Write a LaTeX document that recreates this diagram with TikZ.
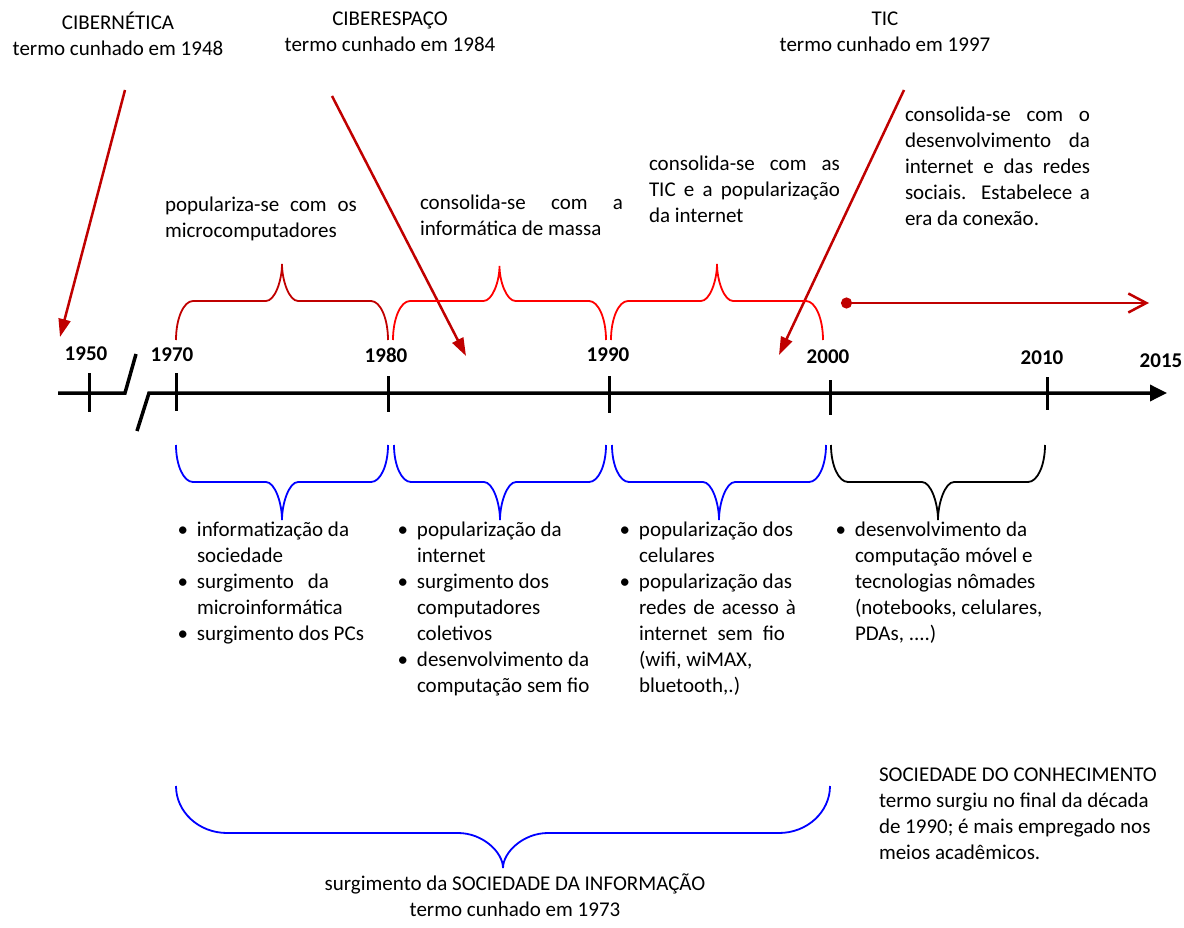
\documentclass[tikz,border=0pt]{standalone}
\usepackage{fontspec}
\setmainfont{Carlito}
\usetikzlibrary{arrows.meta}
\definecolor{dred}{RGB}{192,0,0}
\definecolor{bred}{RGB}{255,0,0}
\definecolor{bblue}{RGB}{0,0,255}
\newcommand\fs{\fontsize{21pt}{26pt}\selectfont}
% #1 style, #2 x0, #3 x1, #4 y end, #5 y bar, #6 y tip, #7 corner radius, #8 tip radius
\newcommand\tlbrace[8]{%
 \pgfmathsetmacro\bxm{(#2+#3)/2}%
 \pgfmathsetmacro\bya{#4+0.552*(#5-#4)}%
 \pgfmathsetmacro\byb{#5+0.552*(#6-#5)}%
 \draw[#1] (#2,#4) .. controls (#2,\bya) and ({#2+0.448*#7},#5) .. ({#2+#7},#5)
  -- ({\bxm-#8},#5) .. controls ({\bxm-0.448*#8},#5) and (\bxm,\byb) .. (\bxm,#6)
  .. controls (\bxm,\byb) and ({\bxm+0.448*#8},#5) .. ({\bxm+#8},#5)
  -- ({#3-#7},#5) .. controls ({#3-0.448*#7},#5) and (#3,\bya) .. (#3,#4);
}
\newcommand\bul{\llap{\textbullet\hspace{9pt}}}
\begin{document}
\begin{tikzpicture}[x=1pt,y=-1pt,
  txt/.style={font=\fs, inner sep=0pt, outer sep=0pt, execute at begin node={\rule{0pt}{18pt}}},
  year/.style={font=\fs\bfseries, inner sep=0pt, anchor=base},
  axisline/.style={line width=3.5pt, black},
  tickline/.style={line width=3pt, black},
  redarrow/.style={dred, line width=2.5pt, -{Triangle[length=18pt,width=12pt]}},
  bracered/.style={line width=1.8pt},
  braceblue/.style={bblue, line width=1.8pt}]
\useasboundingbox (0,0) rectangle (1184,928);

% axis
\coordinate (a0) at (58,393);
\coordinate (a1) at (125,393);
\coordinate (a2) at (136,354);
\coordinate (b0) at (137,431);
\coordinate (b1) at (149,393);
\coordinate (b2) at (1167,393);
\draw[axisline, line join=miter] (a0) -- (a1) -- (a2);
\draw[axisline, line join=miter, -{Triangle[length=17pt,width=16pt]}] (b0) -- (b1) -- (b2);
\draw[tickline] (89,373) -- (89,412);
\draw[tickline] (176,373) -- (176,411);
\draw[tickline] (388,376) -- (388,412);
\draw[tickline] (609,376) -- (609,413);
\draw[tickline] (830,380) -- (830,415);
\draw[tickline] (1047,377) -- (1047,410);

% years
\node[year] (y1950) at (86,360) {1950};
\node[year] (y1970) at (172,361) {1970};
\node[year] (y1980) at (386,362) {1980};
\node[year] (y1990) at (608,361) {1990};
\node[year] (y2000) at (828,363) {2000};
\node[year] (y2010) at (1042,364) {2010};
\node[year] (y2015) at (1161,367) {2015};

% top terms
\node[txt, align=center, anchor=north] (cib) at (118,12) {CIBERNÉTICA\\termo cunhado em 1948};
\node[txt, align=center, anchor=north] (ciber) at (390,12) {CIBERESPAÇO\\termo cunhado em 1984};
\node[txt, align=center, anchor=north] (tic) at (885,12) {TIC\\termo cunhado em 1997};

% red arrows
\coordinate (r1s) at (125,90);  \coordinate (r1e) at (60,337);
\coordinate (r2s) at (332,96);  \coordinate (r2e) at (466,356);
\coordinate (r3s) at (904,90);  \coordinate (r3e) at (779,355);
\draw[redarrow] (r1s) -- (r1e);
\draw[redarrow] (r2s) -- (r2e);
\draw[redarrow] (r3s) -- (r3e);

% red line with dot
\coordinate (ls) at (841,303);
\coordinate (le) at (1149,303);
\draw[dred, line width=2.5pt, {Circle[length=11pt]}-{Straight Barb[length=18pt,width=19pt,line width=2.5pt]}] (ls) -- (le);

% red braces
\tlbrace{bracered, dred}{176}{388}{340}{301}{264}{17}{16}
\tlbrace{bracered, bred}{393}{606}{340}{301}{266}{17}{16}
\tlbrace{bracered, bred}{611}{823}{340}{301}{264}{17}{16}

% upper texts
\node[txt, align=left, anchor=north west] (t1) at (165,197)
 {\makebox[192pt][s]{populariza-se com os}\\microcomputadores};
\node[txt, align=left, anchor=north west] (t2) at (420,195)
 {\makebox[203pt][s]{consolida-se com a}\\informática de massa};
\node[txt, align=left, anchor=north west] (t3) at (649,156)
 {\makebox[191pt][s]{consolida-se com as}\\\makebox[191pt][s]{TIC e a popularização}\\da internet};
\node[txt, align=left, anchor=north west] (t4) at (905,107)
 {\makebox[185pt][s]{consolida-se com o}\\\makebox[185pt][s]{desenvolvimento da}\\\makebox[185pt][s]{internet e das redes}\\\makebox[185pt][s]{sociais. Estabelece a}\\era da conexão.};

% lower braces
\tlbrace{braceblue}{176}{388}{445}{482}{520}{17}{16}
\tlbrace{braceblue}{394}{606}{445}{482}{520}{17}{16}
\tlbrace{braceblue}{612}{826}{445}{482}{520}{17}{16}
\tlbrace{bracered, black}{831}{1045}{445}{482}{520}{17}{16}

% bullet lists
\node[txt, align=left, anchor=north west] (l1) at (197,522)
 {\bul informatização da\\sociedade\\\bul\makebox[132pt][s]{surgimento da}\\microinformática\\\bul surgimento dos PCs};
\node[txt, align=left, anchor=north west] (l2) at (417,522)
 {\bul popularização da\\internet\\\bul surgimento dos\\computadores\\coletivos\\\bul desenvolvimento da\\computação sem fio};
\node[txt, align=left, anchor=north west] (l3) at (639,522)
 {\bul popularização dos\\celulares\\\bul popularização das\\\makebox[157pt][s]{redes de acesso à}\\\makebox[146pt][s]{internet sem fio}\\(wifi, wiMAX,\\bluetooth,.)};
\node[txt, align=left, anchor=north west] (l4) at (855,522)
 {\bul desenvolvimento da\\computação móvel e\\tecnologias nômades\\(notebooks, celulares,\\PDAs, ....)};

% big brace
\tlbrace{braceblue}{176}{830}{786}{833}{868}{51}{45}
\node[txt, align=center, anchor=north] (si) at (515,874)
 {surgimento da SOCIEDADE DA INFORMAÇÃO\\termo cunhado em 1973};

% knowledge society
\node[txt, align=left, anchor=north west] (sc) at (879,768)
 {SOCIEDADE DO CONHECIMENTO\\termo surgiu no final da década\\de 1990; é mais empregado nos\\meios acadêmicos.};
\end{tikzpicture}
\end{document}
